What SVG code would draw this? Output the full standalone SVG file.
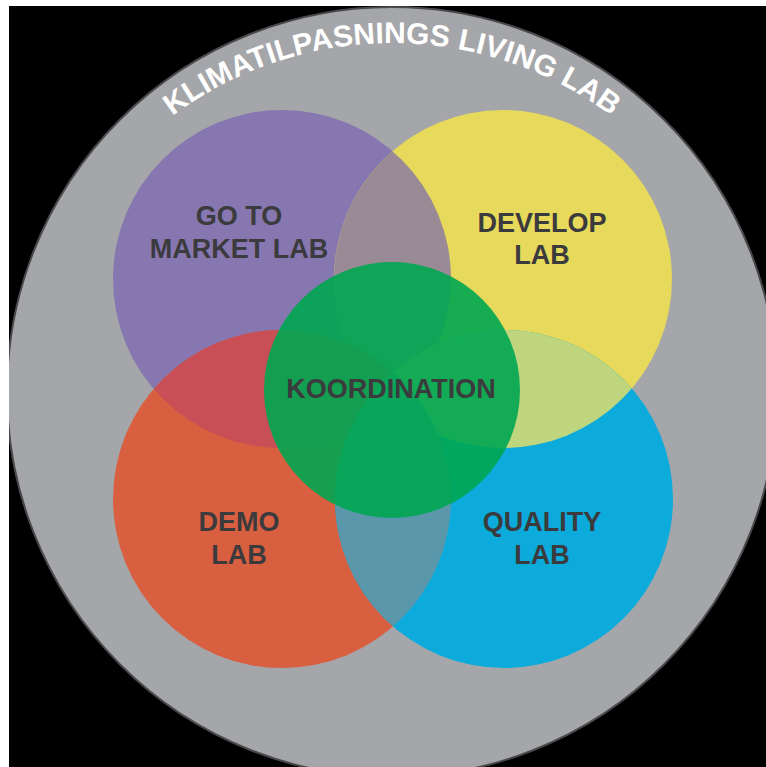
<svg xmlns="http://www.w3.org/2000/svg" width="766" height="767" viewBox="0 0 766 767">
  <defs>
    <clipPath id="clipPurple"><circle cx="282" cy="279" r="169"/></clipPath>
    <clipPath id="clipYellow"><circle cx="503" cy="279" r="169"/></clipPath>
    <clipPath id="clipRed"><circle cx="282" cy="499" r="169"/></clipPath>
    <clipPath id="clipBlue"><circle cx="504" cy="499" r="169"/></clipPath>
    <clipPath id="frame"><rect x="9" y="6" width="757" height="761"/></clipPath>
    <path id="titleArc" d="M 25,410 A 367 367 0 0 1 759,410"/>
  </defs>
  <style>
    .lbl { font-family: "Liberation Sans", Arial, sans-serif; font-weight: bold; font-size: 27px; fill: #3b3a3c; text-anchor: middle; }
    .title { font-family: "Liberation Sans", Arial, sans-serif; font-weight: bold; font-size: 30px; fill: #ffffff; }
  </style>
  <rect x="0" y="0" width="766" height="767" fill="#ffffff"/>
  <rect x="9" y="6" width="757" height="761" fill="#000000"/>

  <g id="living-lab" clip-path="url(#frame)">
    <circle cx="392" cy="392" r="385" fill="#a5a6a9" stroke="#4a4a4c" stroke-width="2"/>
    <text class="title"><textPath href="#titleArc" startOffset="50%" text-anchor="middle">KLIMATILPASNINGS LIVING LAB</textPath></text>
  </g>

  <g id="go-to-market-lab">
    <circle cx="282" cy="279" r="169" fill="#8777b1"/>
  </g>
  <g id="develop-lab">
    <circle cx="503" cy="279" r="169" fill="#e6d95b"/>
  </g>
  <g id="demo-lab">
    <circle cx="282" cy="499" r="169" fill="#d95f41"/>
  </g>
  <g id="quality-lab">
    <circle cx="504" cy="499" r="169" fill="#0cabdb"/>
  </g>

  <g id="overlaps">
    <circle cx="503" cy="279" r="169" fill="#9a8a96" clip-path="url(#clipPurple)"/>
    <circle cx="282" cy="499" r="169" fill="#c84f55" clip-path="url(#clipPurple)"/>
    <circle cx="504" cy="499" r="169" fill="#bfd57e" clip-path="url(#clipYellow)"/>
    <circle cx="504" cy="499" r="169" fill="#5b97ab" clip-path="url(#clipRed)"/>
  </g>

  <g id="koordination">
    <circle cx="392" cy="390" r="128" fill="#00a651" fill-opacity="0.9"/>
    <text class="lbl" x="391" y="398">KOORDINATION</text>
  </g>

  <g id="labels">
    <text class="lbl" x="239" y="225">GO TO</text>
    <text class="lbl" x="239" y="258">MARKET LAB</text>
    <text class="lbl" x="542" y="232">DEVELOP</text>
    <text class="lbl" x="542" y="264">LAB</text>
    <text class="lbl" x="239" y="531">DEMO</text>
    <text class="lbl" x="239" y="564">LAB</text>
    <text class="lbl" x="542" y="531">QUALITY</text>
    <text class="lbl" x="542" y="564">LAB</text>
  </g>
  <g id="connectors"/>
</svg>
